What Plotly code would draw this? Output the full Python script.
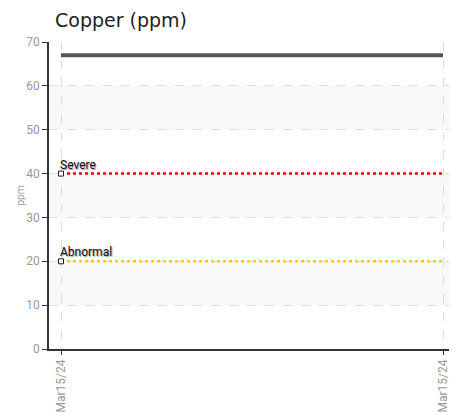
import plotly.graph_objects as go

x_labels = ["Mar15/24", "Mar15/24"]
x_pos = [0, 1]
copper_values = [67, 67]
severe_limit = [40, 40]
abnormal_limit = [20, 20]
band_ranges = [(50, 60), (30, 40), (10, 20)]

fig = go.Figure()

for lo, hi in band_ranges:
    fig.add_shape(type="rect", xref="paper", yref="y", x0=0, x1=1, y0=lo, y1=hi,
                  fillcolor="#f8f8f8", line_width=0, layer="below")

fig.add_trace(go.Scatter(x=x_pos, y=copper_values, mode="lines",
                         line=dict(color="#555555", width=4), showlegend=False, hoverinfo="skip"))
fig.add_trace(go.Scatter(x=x_pos, y=severe_limit, mode="lines",
                         line=dict(color="#ff0000", width=2.5, dash="dot"), showlegend=False))
fig.add_trace(go.Scatter(x=x_pos, y=abnormal_limit, mode="lines",
                         line=dict(color="#ffcc00", width=2.5, dash="dot"), showlegend=False))
fig.add_trace(go.Scatter(x=[x_pos[0], x_pos[0]], y=[severe_limit[0], abnormal_limit[0]], mode="markers",
                         marker=dict(symbol="square", size=5, color="white",
                                     line=dict(color="#222222", width=1)), showlegend=False))

for yv, txt in [(severe_limit[0], "Severe"), (abnormal_limit[0], "Abnormal")]:
    fig.add_annotation(x=x_pos[0], y=yv, text=txt, showarrow=False, xanchor="left", yanchor="bottom",
                       xshift=-3, yshift=0,
                       font=dict(family="Liberation Sans Narrow, Roboto", size=12, color="#111111",
                                 shadow="1px 1px 1px #999999"))

fig.update_layout(
    width=449, height=404,
    margin=dict(l=41, r=0, t=34, b=63, autoexpand=False),
    plot_bgcolor="white", paper_bgcolor="white",
    title=dict(text="Copper (ppm)", x=0.1047, xanchor="left", y=0.970, yanchor="middle",
               font=dict(family="DejaVu Sans", size=19, color="#222222")),
    xaxis=dict(range=[-0.0314, 1.0366], tickmode="array", tickvals=x_pos, ticktext=x_labels,
               tickangle=-90, showgrid=True, gridcolor="#dddddd", griddash="dash", gridwidth=1,
               showline=True, linecolor="#333333", linewidth=1.5, ticks="outside", ticklen=4,
               tickcolor="#333333", zeroline=False, automargin=False,
               tickfont=dict(family="Liberation Sans Narrow, Roboto", size=12, color="#999999")),
    yaxis=dict(range=[0, 70], dtick=10, showgrid=True, gridcolor="#dddddd", griddash="dash",
               showline=True, linecolor="#333333", linewidth=1.5, ticks="outside", ticklen=5,
               tickcolor="#333333", zeroline=False, automargin=False,
               title=dict(text="ppm", font=dict(family="Roboto", size=10, color="#999999"), standoff=0),
               tickfont=dict(family="Liberation Sans Narrow, Roboto", size=12, color="#999999")),
)

fig.write_html("out.html")
